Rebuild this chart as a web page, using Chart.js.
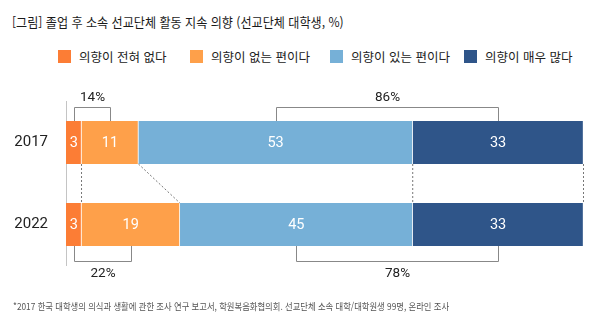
<!DOCTYPE html>
<html lang="ko">
<head>
<meta charset="utf-8">
<script src="https://cdn.jsdelivr.net/npm/chart.js@4.4.1/dist/chart.umd.min.js"></script>
<style>
  html, body { margin: 0; padding: 0; background: #fff; }
  body { width: 602px; height: 331px; position: relative; overflow: hidden;
         font-family: "Noto Sans CJK KR", "Noto Sans", sans-serif; color: #222; }
  #chart { position: absolute; left: 0; top: 0; }
  .title { position: absolute; left: 12px; top: 12px; font-size: 13px; line-height: 20px; color: #1a1a1a;
           white-space: nowrap; transform: scaleX(0.93); transform-origin: left center; }
  .legend { position: absolute; top: 47px; left: 0; width: 602px; height: 18px; }
  .legend .item { position: absolute; display: flex; align-items: center; font-size: 12.5px; color: #222; white-space: nowrap; }
  .legend .sw { width: 13px; height: 13px; margin-right: 8px; display: inline-block; }
  .note { position: absolute; left: 13px; top: 299px; font-size: 9.5px; color: #555; white-space: nowrap;
          transform: scaleX(0.875); transform-origin: left center; }
</style>
</head>
<body>
<div class="title">[그림] 졸업 후 소속 선교단체 활동 지속 의향 (선교단체 대학생, %)</div>
<div class="legend" id="legend"></div>
<canvas id="chart" width="602" height="331"></canvas>
<div class="note">*2017 한국 대학생의 의식과 생활에 관한 조사 연구 보고서, 학원복음화협의회. 선교단체 소속 대학/대학원생 99명, 온라인 조사</div>
<script>
// DATA
const years = ['2017', '2022'];
const seriesNames = ['의향이 전혀 없다', '의향이 없는 편이다', '의향이 있는 편이다', '의향이 매우 많다'];
const noneAtAll = [3, 3];
const ratherNot = [11, 19];
const ratherYes = [53, 45];
const veryMuch = [33, 33];

// LOOK
const COLORS = ['#FC7D35', '#FEA04A', '#76B0D7', '#2F5589'];
const LINE = '#888';
const legendX = [58, 190, 330, 464];

Chart.defaults.font.family = 'Roboto';

// html legend
const legendEl = document.getElementById('legend');
seriesNames.forEach((name, i) => {
    const item = document.createElement('div');
    item.className = 'item';
    item.style.left = legendX[i] + 'px';
    item.innerHTML = `<span class="sw" style="background:${COLORS[i]}"></span>${name}`;
    legendEl.appendChild(item);
});

// white numbers inside each segment
const segmentLabels = {
    id: 'segmentLabels',
    afterDatasetsDraw(chart) {
        const { ctx } = chart;
        ctx.save();
        ctx.fillStyle = '#fff';
        ctx.font = '14.5px Roboto';
        ctx.textAlign = 'center';
        ctx.textBaseline = 'middle';
        chart.data.datasets.forEach((ds, di) => {
            chart.getDatasetMeta(di).data.forEach((bar, i) => {
                const x = (bar.x + bar.base) / 2;
                ctx.fillText(String(ds.data[i]), x, bar.y + 1);
            });
        });
        ctx.restore();
    }
};

// brackets for negative / positive sums and the connectors between years
const brackets = {
    id: 'brackets',
    afterDatasetsDraw(chart) {
        const { ctx } = chart;
        const bars = chart.data.datasets.map((ds, di) => chart.getDatasetMeta(di).data);
        const vals = chart.data.datasets.map(ds => ds.data);
        const mid = b => (b.x + b.base) / 2;

        ctx.save();
        ctx.strokeStyle = LINE;
        ctx.lineWidth = 1;
        ctx.fillStyle = '#222';
        ctx.font = '13.5px Roboto';
        ctx.textAlign = 'center';
        ctx.textBaseline = 'middle';

        const drawBracket = (row, a, b, up) => {
            const ba = bars[a][row], bb = bars[b][row];
            const half = ba.height / 2;
            const edge = up ? ba.y - half : ba.y + half;
            const lineY = up ? edge - 14.5 : edge + 15;
            const x1 = Math.round(mid(ba)) + 0.5, x2 = Math.round(mid(bb)) + 0.5;
            ctx.beginPath();
            ctx.moveTo(x1, edge);
            ctx.lineTo(x1, Math.round(lineY) + 0.5);
            ctx.lineTo(x2, Math.round(lineY) + 0.5);
            ctx.lineTo(x2, edge);
            ctx.stroke();
            const sum = vals[a][row] + vals[b][row];
            ctx.fillText(sum + '%', (x1 + x2) / 2, up ? lineY - 9 : lineY + 13);
        };
        drawBracket(0, 0, 1, true);
        drawBracket(0, 2, 3, true);
        drawBracket(1, 0, 1, false);
        drawBracket(1, 2, 3, false);

        // dotted connectors at the segment boundaries
        ctx.setLineDash([2, 2]);
        ctx.strokeStyle = '#777';
        for (let d = 0; d < bars.length; d++) {
            const top = bars[d][0], bot = bars[d][1];
            ctx.beginPath();
            ctx.moveTo(top.x, top.y + top.height / 2);
            ctx.lineTo(bot.x, bot.y - bot.height / 2);
            ctx.stroke();
        }
        ctx.restore();
    }
};

new Chart(document.getElementById('chart'), {
    type: 'bar',
    data: {
        labels: years,
        datasets: [noneAtAll, ratherNot, ratherYes, veryMuch].map((d, i) => ({
            label: seriesNames[i],
            data: d,
            backgroundColor: COLORS[i],
            borderColor: 'rgba(255,255,255,0.45)',
            borderWidth: { left: 0, right: 1, top: 0, bottom: 0 },
            borderSkipped: false,
            barThickness: 43
        }))
    },
    options: {
        indexAxis: 'y',
        responsive: false,
        animation: false,
        layout: { padding: { top: 101.5, bottom: 65.5, right: 18.5, left: 0 } },
        scales: {
            x: { stacked: true, min: 0, max: 100, display: false },
            y: {
                stacked: true,
                grid: { display: false, drawTicks: false },
                border: { display: true, color: '#c4c4c4' },
                ticks: { color: '#222', font: { family: 'Roboto', size: 15 }, padding: 18 },
                afterFit(scale) { scale.width = 66; }
            }
        },
        plugins: {
            legend: { display: false },
            tooltip: { enabled: false }
        }
    },
    plugins: [segmentLabels, brackets]
});
</script>
</body>
</html>
